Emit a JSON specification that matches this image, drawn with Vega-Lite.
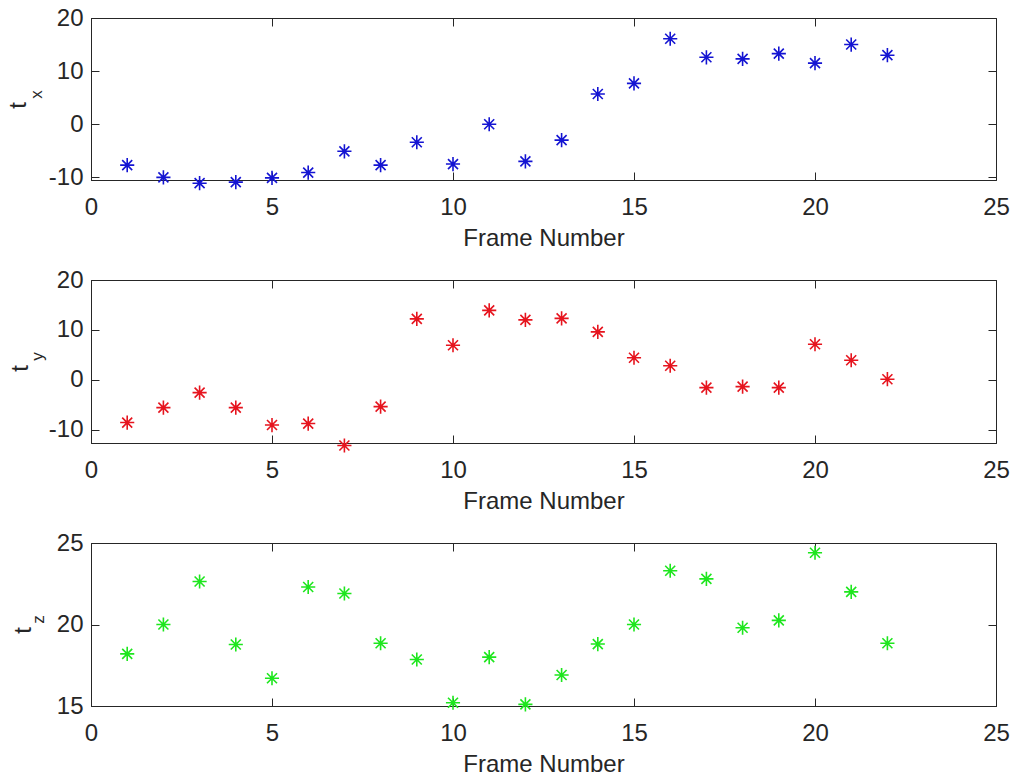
{
  "$schema": "https://vega.github.io/schema/vega-lite/v6.json",
  "background": "white",
  "padding": {"left": 5, "top": 5, "right": 5, "bottom": 0},
  "datasets": {
    "frames": [
      {"frame": 1, "tx": -7.7, "ty": -8.6, "tz": 18.2},
      {"frame": 2, "tx": -10.0, "ty": -5.6, "tz": 20.0},
      {"frame": 3, "tx": -11.1, "ty": -2.6, "tz": 22.64},
      {"frame": 4, "tx": -10.9, "ty": -5.6, "tz": 18.77},
      {"frame": 5, "tx": -10.1, "ty": -9.1, "tz": 16.7},
      {"frame": 6, "tx": -9.1, "ty": -8.8, "tz": 22.3},
      {"frame": 7, "tx": -5.1, "ty": -13.2, "tz": 21.9},
      {"frame": 8, "tx": -7.7, "ty": -5.4, "tz": 18.85},
      {"frame": 9, "tx": -3.4, "ty": 12.2, "tz": 17.85},
      {"frame": 10, "tx": -7.5, "ty": 6.9, "tz": 15.2},
      {"frame": 11, "tx": 0.0, "ty": 13.9, "tz": 18.0},
      {"frame": 12, "tx": -7.0, "ty": 12.0, "tz": 15.1},
      {"frame": 13, "tx": -3.0, "ty": 12.3, "tz": 16.9},
      {"frame": 14, "tx": 5.7, "ty": 9.6, "tz": 18.8},
      {"frame": 15, "tx": 7.7, "ty": 4.4, "tz": 20.0},
      {"frame": 16, "tx": 16.1, "ty": 2.8, "tz": 23.3},
      {"frame": 17, "tx": 12.6, "ty": -1.6, "tz": 22.8},
      {"frame": 18, "tx": 12.3, "ty": -1.4, "tz": 19.8},
      {"frame": 19, "tx": 13.3, "ty": -1.6, "tz": 20.25},
      {"frame": 20, "tx": 11.5, "ty": 7.1, "tz": 24.4},
      {"frame": 21, "tx": 15.0, "ty": 3.9, "tz": 22.0},
      {"frame": 22, "tx": 13.0, "ty": 0.1, "tz": 18.85}
    ]
  },
  "data": {"name": "frames"},
  "vconcat": [
    {
      "width": 905,
      "height": 162,
      "layer": [
        {
          "mark": {"type": "point", "shape": "M0,-1L0,1M-1,0L1,0M-0.7071,-0.7071L0.7071,0.7071M-0.7071,0.7071L0.7071,-0.7071", "filled": false, "size": 200, "strokeWidth": 1.6, "color": "#1414d2", "opacity": 1},
          "encoding": {
            "x": {"field": "frame", "type": "quantitative", "scale": {"domain": [0, 25], "nice": false, "zero": false},
              "axis": {"orient": "bottom", "values": [0, 5, 10, 15, 20, 25], "title": "Frame Number"}},
            "y": {"field": "tx", "type": "quantitative", "scale": {"domain": [-10.5, 20], "nice": false, "zero": false},
              "axis": {"orient": "left", "values": [-10, 0, 10, 20], "labelExpr": "datum.value < 0 ? '-' + abs(datum.value) : datum.label", "title": "t", "titleX": -61, "titleY": 87}}
          }
        },
        {
          "mark": {"type": "point", "opacity": 0},
          "encoding": {
            "x": {"field": "frame", "type": "quantitative", "axis": {"orient": "top", "values": [0, 5, 10, 15, 20, 25], "labels": false, "title": null, "domain": false}},
            "y": {"field": "tx", "type": "quantitative", "axis": {"orient": "right", "values": [-10, 0, 10, 20], "labels": false, "title": null, "domain": false}}
          }
        },
        {
          "mark": {"type": "point", "opacity": 0},
          "encoding": {
            "x": {"field": "frame", "type": "quantitative", "axis": null},
            "y": {"field": "tx", "type": "quantitative", "axis": {"orient": "left", "labels": false, "ticks": false, "domain": false, "title": "x", "titleFontSize": 17, "titleX": -46, "titleY": 76}}
          }
        }
      ],
      "resolve": {"axis": {"x": "independent", "y": "independent"}}
    },
    {
      "width": 905,
      "height": 163,
      "layer": [
        {
          "mark": {"type": "point", "shape": "M0,-1L0,1M-1,0L1,0M-0.7071,-0.7071L0.7071,0.7071M-0.7071,0.7071L0.7071,-0.7071", "filled": false, "size": 200, "strokeWidth": 1.6, "color": "#e6141e", "opacity": 1},
          "encoding": {
            "x": {"field": "frame", "type": "quantitative", "scale": {"domain": [0, 25], "nice": false, "zero": false},
              "axis": {"orient": "bottom", "values": [0, 5, 10, 15, 20, 25], "title": "Frame Number"}},
            "y": {"field": "ty", "type": "quantitative", "scale": {"domain": [-12.7, 20], "nice": false, "zero": false},
              "axis": {"orient": "left", "values": [-10, 0, 10, 20], "labelExpr": "datum.value < 0 ? '-' + abs(datum.value) : datum.label", "title": "t", "titleX": -59, "titleY": 88}}
          }
        },
        {
          "mark": {"type": "point", "opacity": 0},
          "encoding": {
            "x": {"field": "frame", "type": "quantitative", "axis": {"orient": "top", "values": [0, 5, 10, 15, 20, 25], "labels": false, "title": null, "domain": false}},
            "y": {"field": "ty", "type": "quantitative", "axis": {"orient": "right", "values": [-10, 0, 10, 20], "labels": false, "title": null, "domain": false}}
          }
        },
        {
          "mark": {"type": "point", "opacity": 0},
          "encoding": {
            "x": {"field": "frame", "type": "quantitative", "axis": null},
            "y": {"field": "ty", "type": "quantitative", "axis": {"orient": "left", "labels": false, "ticks": false, "domain": false, "title": "y", "titleFontSize": 17, "titleX": -45, "titleY": 76}}
          }
        }
      ],
      "resolve": {"axis": {"x": "independent", "y": "independent"}}
    },
    {
      "width": 905,
      "height": 163,
      "layer": [
        {
          "mark": {"type": "point", "shape": "M0,-1L0,1M-1,0L1,0M-0.7071,-0.7071L0.7071,0.7071M-0.7071,0.7071L0.7071,-0.7071", "filled": false, "size": 200, "strokeWidth": 1.6, "color": "#1ee61e", "opacity": 1},
          "encoding": {
            "x": {"field": "frame", "type": "quantitative", "scale": {"domain": [0, 25], "nice": false, "zero": false},
              "axis": {"orient": "bottom", "values": [0, 5, 10, 15, 20, 25], "title": "Frame Number"}},
            "y": {"field": "tz", "type": "quantitative", "scale": {"domain": [15, 25], "nice": false, "zero": false},
              "axis": {"orient": "left", "values": [15, 20, 25], "title": "t", "titleX": -55.5, "titleY": 87}}
          }
        },
        {
          "mark": {"type": "point", "opacity": 0},
          "encoding": {
            "x": {"field": "frame", "type": "quantitative", "axis": {"orient": "top", "values": [0, 5, 10, 15, 20, 25], "labels": false, "title": null, "domain": false}},
            "y": {"field": "tz", "type": "quantitative", "axis": {"orient": "right", "values": [15, 20, 25], "labels": false, "title": null, "domain": false}}
          }
        },
        {
          "mark": {"type": "point", "opacity": 0},
          "encoding": {
            "x": {"field": "frame", "type": "quantitative", "axis": null},
            "y": {"field": "tz", "type": "quantitative", "axis": {"orient": "left", "labels": false, "ticks": false, "domain": false, "title": "z", "titleFontSize": 17, "titleX": -43.5, "titleY": 76}}
          }
        }
      ],
      "resolve": {"axis": {"x": "independent", "y": "independent"}}
    }
  ],
  "spacing": 100,
  "bounds": "flush",
  "config": {
    "view": {"stroke": "#262626", "strokeWidth": 1},
    "axis": {
      "grid": false,
      "labelFont": "Liberation Sans",
      "labelFontSize": 24,
      "labelColor": "#262626",
      "titleFont": "Liberation Sans",
      "titleFontSize": 24,
      "titleFontWeight": "normal",
      "titleColor": "#262626",
      "tickColor": "#262626",
      "tickSize": -8,
      "tickWidth": 1,
      "domainColor": "#262626",
      "domainWidth": 1,
      "labelFlush": false,
      "labelOverlap": false
    },
    "axisX": {"labelPadding": 23, "titlePadding": 7},
    "axisY": {"labelPadding": 16}
  }
}
